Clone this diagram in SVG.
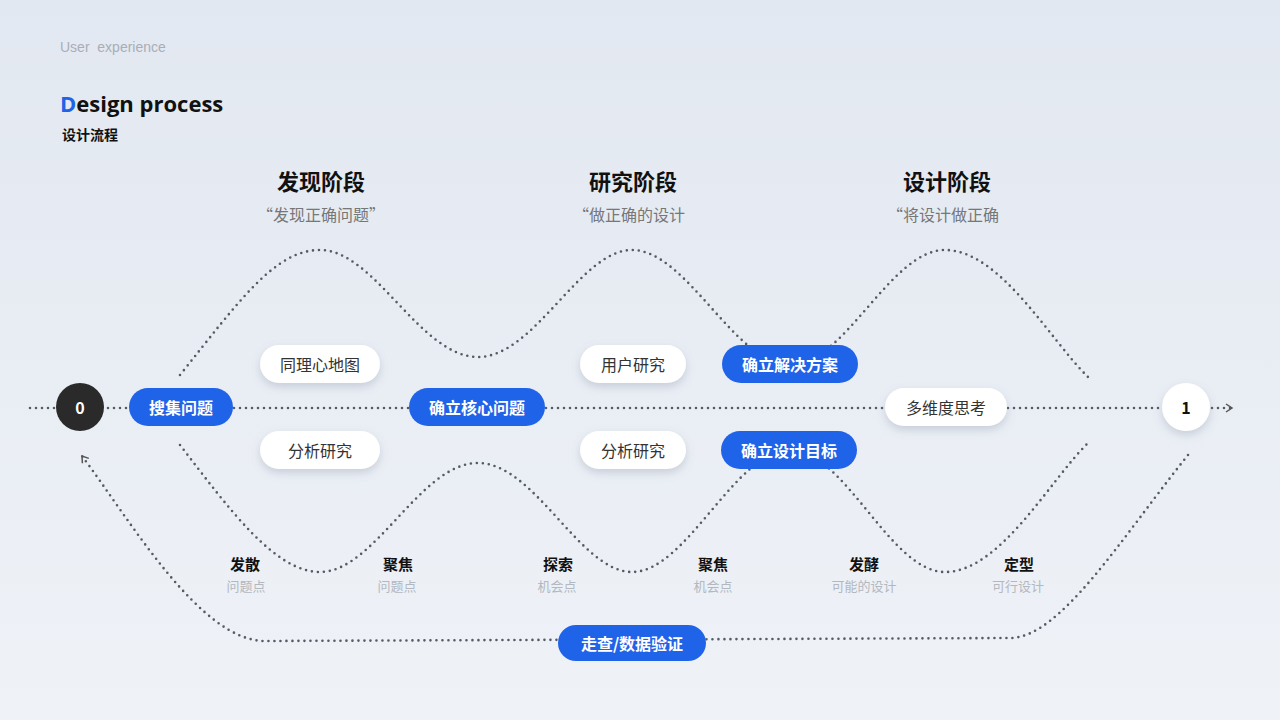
<svg xmlns="http://www.w3.org/2000/svg" width="1280" height="720" viewBox="0 0 1280 720">
<defs>
<linearGradient id="bg" x1="0" y1="0" x2="0" y2="1"><stop offset="0" stop-color="#e2e8f1"/><stop offset="1" stop-color="#eff2f7"/></linearGradient>
<filter id="sh" x="-30%" y="-50%" width="160%" height="220%"><feDropShadow dx="0" dy="4" stdDeviation="4" flood-color="#7a869a" flood-opacity="0.3"/></filter>
<marker id="arr" viewBox="0 0 10 10" refX="8" refY="5" markerWidth="10" markerHeight="10" markerUnits="userSpaceOnUse" orient="auto"><path d="M2,1 L8,5 L2,9" fill="none" stroke="#555" stroke-width="1.5"/></marker>
</defs>
<style>
.dot{fill:none;stroke:#555b63;stroke-width:2.6;stroke-dasharray:0 6;stroke-linecap:round}
.w{fill:#fff;filter:url(#sh)}
.b{fill:#1f63e8}
.t{font-family:"Noto Sans CJK SC","Liberation Sans",sans-serif;font-size:16px;text-anchor:middle;dominant-baseline:central}
.tw{fill:#fff;font-weight:bold}
.tg{fill:#333}
.h{font-family:"Noto Sans CJK SC",sans-serif;font-size:22px;font-weight:bold;text-anchor:middle;fill:#111}
.s{font-family:"Noto Sans CJK SC",sans-serif;font-size:16px;text-anchor:middle;fill:#777}
.l{font-family:"Noto Sans CJK SC",sans-serif;font-size:15px;font-weight:bold;text-anchor:middle;fill:#111}
.ls{font-family:"Noto Sans CJK SC",sans-serif;font-size:13px;text-anchor:middle;fill:#b3b8c0}
</style>
<rect width="1280" height="720" fill="url(#bg)"/>
<text x="60" y="52" font-family="Liberation Sans,sans-serif" font-size="14" fill="#a9aeb6" xml:space="preserve">User  experience</text>
<text x="60" y="112" font-family="Open Sans,Liberation Sans,sans-serif" font-size="22" font-weight="bold" fill="#111"><tspan fill="#1f63e8">D</tspan>esign process</text>
<text x="62" y="140" font-family="Noto Sans CJK SC,sans-serif" font-size="14" font-weight="bold" fill="#111">设计流程</text>
<text class="h" x="321" y="190">发现阶段</text><text class="s" x="321" y="221">“发现正确问题”</text>
<text class="h" x="633" y="190">研究阶段</text><text class="s" x="629" y="221">“做正确的设计</text>
<text class="h" x="947" y="190">设计阶段</text><text class="s" x="943" y="221">“将设计做正确</text>
<g id="connectors">
<path class="dot" d="M30,408 L1232,408" marker-end="url(#arr)"/>
<path class="dot" d="M180,375 C240,300 275,250 320,250 C375,250 420,357 478,357 C535,357 580,250 632,250 C687,250 735,365 790,365 C845,365 890,250 945,250 C1000,250 1050,340 1088,377"/>
<path class="dot" d="M180,445 C230,510 275,572 320,572 C375,572 420,463 478,463 C535,463 580,572 632,572 C687,572 735,450 790,450 C845,450 890,572 945,572 C1000,572 1050,480 1088,443"/>
<path class="dot" d="M1188,455 C1120,540 1060,638 1010,638 L265,641 C200,641 130,520 82,456" marker-end="url(#arr)"/>
</g>
<g id="n0"><circle cx="80" cy="407" r="24" fill="#2a2a2a"/><text class="t" x="80" y="407" fill="#fff" font-size="24" font-weight="bold" font-family="Liberation Sans,sans-serif">0</text></g>
<g id="n1"><circle cx="1186" cy="407" r="24" class="w"/><text class="t" x="1186" y="407" fill="#111" font-size="24" font-weight="bold" font-family="Liberation Sans,sans-serif">1</text></g>
<g id="sjwt"><rect class="b" x="129" y="388" width="104" height="38" rx="19"/><text class="t tw" x="181" y="407">搜集问题</text></g>
<g id="tlxdt"><rect class="w" x="260" y="345" width="120" height="38" rx="19"/><text class="t tg" x="320" y="364">同理心地图</text></g>
<g id="fxyj1"><rect class="w" x="260" y="431" width="120" height="38" rx="19"/><text class="t tg" x="320" y="450">分析研究</text></g>
<g id="qlhx"><rect class="b" x="409" y="388" width="136" height="38" rx="19"/><text class="t tw" x="477" y="407">确立核心问题</text></g>
<g id="yhyj"><rect class="w" x="580" y="345" width="106" height="38" rx="19"/><text class="t tg" x="633" y="364">用户研究</text></g>
<g id="fxyj2"><rect class="w" x="580" y="431" width="106" height="38" rx="19"/><text class="t tg" x="633" y="450">分析研究</text></g>
<g id="qljj"><rect class="b" x="722" y="345" width="136" height="38" rx="19"/><text class="t tw" x="790" y="364">确立解决方案</text></g>
<g id="qlsj"><rect class="b" x="721" y="431" width="136" height="38" rx="19"/><text class="t tw" x="789" y="450">确立设计目标</text></g>
<g id="dwd"><rect class="w" x="885" y="388" width="122" height="38" rx="19"/><text class="t tg" x="946" y="407">多维度思考</text></g>
<g id="zc"><rect class="b" x="558" y="625" width="148" height="36" rx="18"/><text class="t tw" x="632" y="643">走查/数据验证</text></g>
<g id="labels">
<text class="l" x="245" y="570">发散</text><text class="ls" x="246" y="591">问题点</text>
<text class="l" x="398" y="570">聚焦</text><text class="ls" x="397" y="591">问题点</text>
<text class="l" x="558" y="570">探索</text><text class="ls" x="557" y="591">机会点</text>
<text class="l" x="713" y="570">聚焦</text><text class="ls" x="713" y="591">机会点</text>
<text class="l" x="864" y="570">发酵</text><text class="ls" x="864" y="591">可能的设计</text>
<text class="l" x="1019" y="570">定型</text><text class="ls" x="1018" y="591">可行设计</text>
</g>
</svg>
